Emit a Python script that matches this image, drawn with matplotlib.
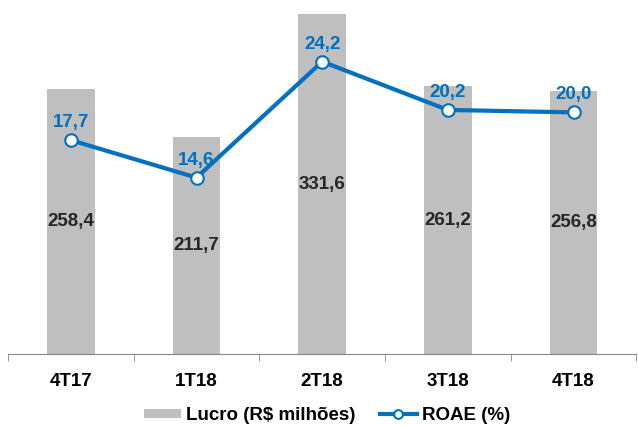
import matplotlib.pyplot as plt
import numpy as np

plt.rcParams['font.family'] = ['Liberation Sans', 'DejaVu Sans']

# data
quarters = ['4T17', '1T18', '2T18', '3T18', '4T18']
lucro = [258.4, 211.7, 331.6, 261.2, 256.8]
roae = [17.7, 14.6, 24.2, 20.2, 20.0]

bar_color = '#BFBFBF'
line_color = '#0070C0'
fs = 13.5

fig = plt.figure(figsize=(6.38, 4.25), dpi=100)
ax = fig.add_axes([0.0125, 0.167, 0.985, 0.833])
x = np.arange(len(quarters))

ax.bar(x, lucro, width=0.38, color=bar_color, label='Lucro (R$ milhões)')
for xi, v in zip(x, lucro):
    ax.text(xi, v / 2, f"{v:.1f}".replace('.', ','), ha='center', va='center',
            fontsize=fs, fontweight='bold', color='#262626')

ax.set_xlim(-0.5, len(quarters) - 0.5)
ax.set_ylim(0, 345.4)
ax.set_yticks([])
for s in ['top', 'right', 'left']:
    ax.spines[s].set_visible(False)
ax.spines['bottom'].set_color('#868686')
ax.set_xticks(x)
ax.set_xticklabels(quarters, fontsize=fs, fontweight='bold')
ax.tick_params(axis='x', which='major', length=0, pad=14)
ax.set_xticks(np.arange(-0.5, len(quarters)), minor=True)
ax.tick_params(axis='x', which='minor', length=5, color='#868686')

ax2 = ax.twinx()
ax2.plot(x, roae, color=line_color, linewidth=3, marker='o', markersize=9,
         markerfacecolor='white', markeredgecolor=line_color, markeredgewidth=1.5,
         label='ROAE (%)')
for xi, v in zip(x, roae):
    ax2.text(xi, v + 1.45, f"{v:.1f}".replace('.', ','), ha='center', va='center',
             fontsize=fs, fontweight='bold', color=line_color)
ax2.set_ylim(0, 29.3)
ax2.set_yticks([])
for s in ['top', 'right', 'left', 'bottom']:
    ax2.spines[s].set_visible(False)

h1, l1 = ax.get_legend_handles_labels()
h2, l2 = ax2.get_legend_handles_labels()
fig.legend(h1 + h2, l1 + l2, loc='center', bbox_to_anchor=(0.5125, 0.022),
           ncol=2, frameon=False, prop={'size': fs, 'weight': 'bold'},
           handlelength=2.0, columnspacing=1.3, handleheight=0.4,
           handletextpad=0.25, markerscale=0.7)

plt.savefig('out.png', dpi=100)
